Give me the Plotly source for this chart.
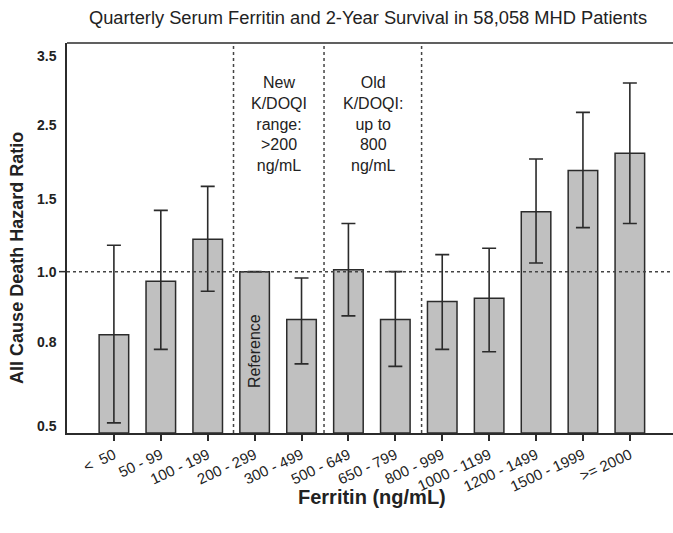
import numpy as np
import plotly.graph_objects as go

# ---- data ----
categories = ["&lt;  50", "50 - 99", "100 - 199", "200 - 299", "300 - 499", "500 - 649",
              "650 - 799", "800 - 999", "1000 - 1199", "1200 - 1499", "1500 - 1999", "&gt;= 2000"]
hazard_ratio = [0.82, 0.97, 1.20, 1.00, 0.86, 1.01, 0.86, 0.91, 0.92, 1.40, 1.83, 2.06]
ci_upper = [1.16, 1.41, 1.64, None, 0.98, 1.31, 1.00, 1.10, 1.14, 1.98, 2.66, 3.07]
ci_lower = [0.51, 0.77, 0.94, None, 0.71, 0.87, 0.70, 0.77, 0.76, 1.05, 1.28, 1.31]
y_tick_values = [0.5, 0.8, 1.0, 1.5, 2.5, 3.5]
y_tick_labels = ["0.5", "0.8", "1.0", "1.5", "2.5", "3.5"]

# ---- the original chart's (non-uniform) y scale: where each tick value sits ----
y_tick_axis_pos = [6.6, 90.6, 161.6, 234.0, 308.3, 377.6]
y_axis_range = [0, 390.6]


def to_axis(v):
    return float(np.interp(np.log(v), np.log(y_tick_values), y_tick_axis_pos))


y_bar = [to_axis(v) for v in hazard_ratio]
err_plus = [None if u is None else to_axis(u) - to_axis(h) for u, h in zip(ci_upper, hazard_ratio)]
err_minus = [None if l is None else to_axis(h) - to_axis(l) for l, h in zip(ci_lower, hazard_ratio)]

FONT = "Liberation Sans, Arial, Helvetica, sans-serif"
DARK = "#2b2b2b"
FIG_W, FIG_H = 673, 533

fig = go.Figure()
fig.add_trace(go.Bar(
    x=categories, y=y_bar, width=0.63,
    marker=dict(color="#c0c0c0", line=dict(color=DARK, width=1.5)),
    error_y=dict(type="data", symmetric=False, array=err_plus, arrayminus=err_minus,
                 color=DARK, thickness=1.6, width=7),
    hoverinfo="skip",
))

# top frame line
fig.add_shape(type="line", xref="paper", x0=0, x1=1, yref="paper", y0=1, y1=1,
              line=dict(color=DARK, width=1.5), layer="above")
# reference line at HR = 1.0
fig.add_shape(type="line", xref="paper", x0=0, x1=1, yref="y", y0=to_axis(1.0), y1=to_axis(1.0),
              line=dict(color="#444444", width=1.5, dash="dot"), layer="above")
# small tick at 1.0
fig.add_shape(type="line", xref="paper", x0=-8 / 606, x1=0, yref="y", y0=to_axis(1.0), y1=to_axis(1.0),
              line=dict(color=DARK, width=1.5), layer="above")
# vertical separators
for xv in [2.55, 4.48, 6.56]:
    fig.add_shape(type="line", xref="x", x0=xv, x1=xv, yref="paper", y0=0, y1=1,
                  line=dict(color="#444444", width=1.5, dash="dot"), layer="above")

fig.add_annotation(x=3.51, xref="x", y=0.925, yref="paper", xanchor="center", yanchor="top", showarrow=False,
                   text="New<br>K/DOQI<br>range:<br>&gt;200<br>ng/mL",
                   font=dict(family=FONT, size=16, color="#222"), align="center")
fig.add_annotation(x=5.52, xref="x", y=0.925, yref="paper", xanchor="center", yanchor="top", showarrow=False,
                   text="Old<br>K/DOQI:<br>up to<br>800<br>ng/mL",
                   font=dict(family=FONT, size=16, color="#222"), align="center")
fig.add_annotation(x=3, xref="x", y=0.209, yref="paper", xanchor="center", yanchor="middle",
                   showarrow=False, text="Reference",
                   textangle=-90, font=dict(family=FONT, size=16, color="#222"))

# axis titles
fig.add_annotation(x=-50 / 606, xref="paper", y=0.449, yref="paper", xanchor="center", yanchor="middle",
                   showarrow=False, text="<b>All Cause Death Hazard Ratio</b>", textangle=-90,
                   font=dict(family=FONT, size=18, color="#222"))
fig.add_annotation(x=0.503, xref="paper", y=-0.163, yref="paper", xanchor="center", yanchor="middle",
                   showarrow=False, text="<b>Ferritin (ng/mL)</b>",
                   font=dict(family=FONT, size=20, color="#222"))

fig.update_layout(
    width=FIG_W, height=FIG_H,
    margin=dict(l=67, r=0, t=42.7, b=FIG_H - 42.7 - 390.6, autoexpand=False),
    paper_bgcolor="white", plot_bgcolor="white",
    showlegend=False, bargap=0.37,
    title=dict(text="Quarterly Serum Ferritin and 2-Year Survival in 58,058 MHD Patients",
               x=368 / FIG_W, xanchor="center",
               y=1 - 18 / FIG_H, yanchor="middle", yref="container",
               font=dict(family=FONT, size=18.3, color="#222")),
    font=dict(family=FONT, color="#222"),
)
fig.update_xaxes(
    type="category", range=[-1, 11.92], showgrid=False, zeroline=False, automargin=False,
    showline=True, linecolor=DARK, linewidth=1.5, mirror=False,
    ticks="outside", ticklen=6, tickwidth=1.5, tickcolor=DARK,
    tickangle=-25, tickfont=dict(family=FONT, size=15, color="#222"),
)
fig.update_yaxes(
    range=y_axis_range, showgrid=False, zeroline=False, automargin=False,
    showline=True, linecolor=DARK, linewidth=1.5, mirror=False,
    tickmode="array", tickvals=[to_axis(v) for v in y_tick_values],
    ticktext=[f"<b>{t}</b>" for t in y_tick_labels],
    ticks="outside", ticklen=6, tickcolor="rgba(0,0,0,0)",
    tickfont=dict(family=FONT, size=14, color="#222"),
)

fig.write_html(
    "out.html",
    config={"displayModeBar": False},
    post_script=("document.documentElement.style.overflow='hidden';"
                 "document.body.style.margin='0';document.body.style.overflow='hidden';"),
)
